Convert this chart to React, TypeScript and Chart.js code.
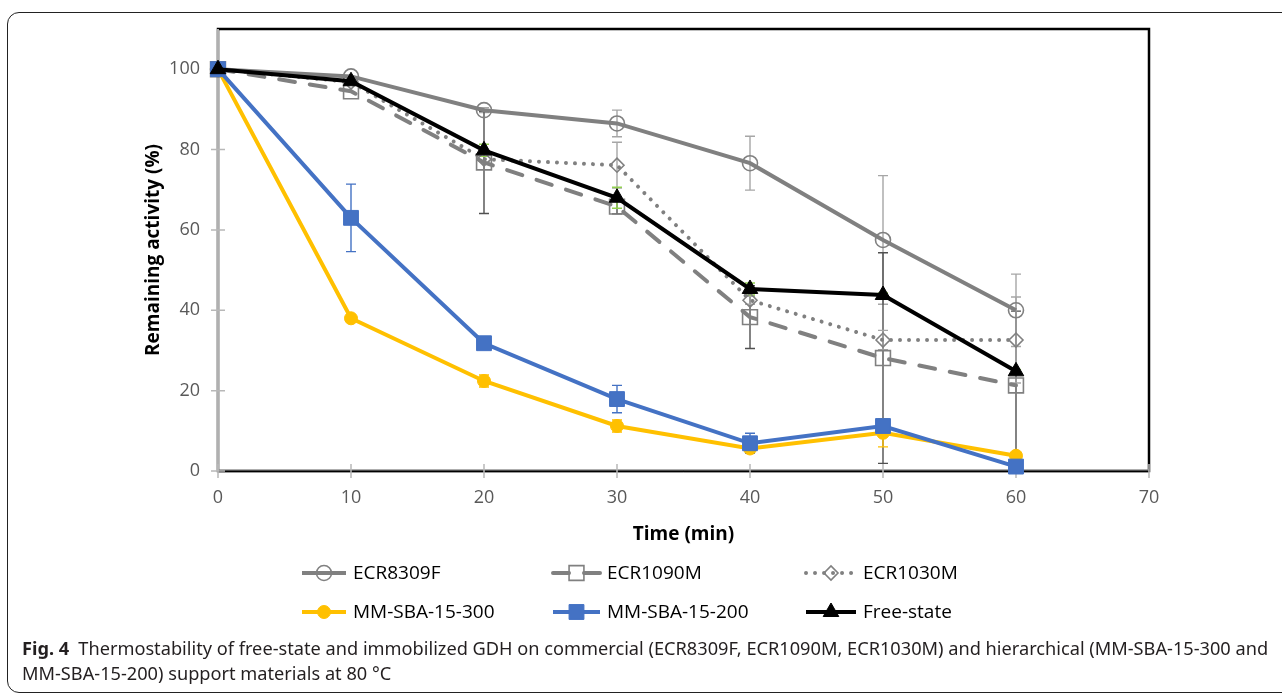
import React, { useEffect, useRef } from 'react';
import { Chart, registerables } from 'chart.js';
import { drawPoint } from 'chart.js/helpers';

Chart.register(...registerables);

const times = [0, 10, 20, 30, 40, 50, 60];
const xTicks = [0, 10, 20, 30, 40, 50, 60, 70];
const yTicks = [0, 20, 40, 60, 80, 100];

const seriesNames = ['ECR8309F', 'ECR1090M', 'ECR1030M', 'MM-SBA-15-300', 'MM-SBA-15-200', 'Free-state'];

const ecr8309f = [100, 98.2, 89.8, 86.5, 76.6, 57.5, 40.0];
const ecr8309fErr = [0, 0, 0.6, 3.3, 6.7, 16.0, 9.0];
const ecr1090m = [100, 94.5, 76.8, 65.8, 38.3, 28.1, 21.3];
const ecr1090mErr = [0, 0, 12.7, 1.8, 7.8, 26.2, 18.5];
const ecr1030m = [100, 96.8, 77.6, 76.1, 42.5, 32.6, 32.6];
const ecr1030mErr = [0, 0, 0, 5.7, 1.0, 2.4, 10.7];
const sba300 = [100, 38.0, 22.4, 11.2, 5.6, 9.5, 3.8];
const sba300Err = [0, 0.8, 1.5, 1.5, 0.8, 3.5, 0.5];
const sba200 = [100, 63.0, 31.8, 17.9, 6.9, 11.2, 1.1];
const sba200Err = [0, 8.4, 0.8, 3.4, 2.5, 1.0, 0.5];
const freeState = [100, 97.0, 79.8, 68.0, 45.3, 43.8, 24.8];
const freeStateErr = [0, 0, 1.5, 2.6, 1.5, 0.5, 0.5];

const captionLine1Bold = 'Fig. 4';
const captionLine1 = 'Thermostability of free-state and immobilized GDH on commercial (ECR8309F, ECR1090M, ECR1030M) and hierarchical (MM-SBA-15-300 and';
const captionLine2 = 'MM-SBA-15-200) support materials at 80 °C';

const toPts = (vals: number[]) => times.map((t, i) => ({ x: t, y: vals[i] }));

const frameAxesPlugin = {
  id: 'frameAxes',
  beforeDatasetsDraw(chart: any) {
    const { ctx, chartArea } = chart;
    const xs = chart.scales.x;
    const ys = chart.scales.y;
    ctx.save();
    ctx.strokeStyle = '#000';
    ctx.lineWidth = 2.5;
    ctx.strokeRect(chartArea.left, chartArea.top, chartArea.right - chartArea.left, chartArea.bottom - chartArea.top);
    ctx.strokeStyle = '#b0b0b0';
    ctx.lineWidth = 2;
    ctx.beginPath();
    ctx.moveTo(chartArea.left, chartArea.top);
    ctx.lineTo(chartArea.left, chartArea.bottom);
    ctx.stroke();
    ctx.strokeStyle = '#9a9a9a';
    ctx.lineWidth = 1;
    ctx.beginPath();
    ctx.moveTo(chartArea.left, chartArea.bottom - 1);
    ctx.lineTo(chartArea.right, chartArea.bottom - 1);
    ctx.moveTo(chartArea.left, chartArea.bottom + 1.5);
    ctx.lineTo(chartArea.right, chartArea.bottom + 1.5);
    ctx.stroke();
    ctx.strokeStyle = '#b8b8b8';
    ctx.lineWidth = 1.5;
    ctx.beginPath();
    yTicks.forEach((v) => {
      const py = ys.getPixelForValue(v);
      ctx.moveTo(chartArea.left - 7, py);
      ctx.lineTo(chartArea.left + 7, py);
    });
    xTicks.forEach((v) => {
      const px = xs.getPixelForValue(v);
      ctx.moveTo(px, chartArea.bottom - 7);
      ctx.lineTo(px, chartArea.bottom + 7);
    });
    ctx.stroke();
    ctx.restore();
  },
};

const errorBarPlugin = {
  id: 'errorBars',
  beforeDatasetsDraw(chart: any) {
    const { ctx } = chart;
    const xs = chart.scales.x;
    const ys = chart.scales.y;
    chart.data.datasets.forEach((ds: any) => {
      ctx.save();
      ctx.strokeStyle = ds.errorColor;
      ctx.lineWidth = 1.4;
      ctx.beginPath();
      ds.data.forEach((p: any, i: number) => {
        const e = ds.errors[i];
        if (!e) return;
        const px = xs.getPixelForValue(p.x);
        const top = ys.getPixelForValue(p.y + e);
        const bot = ys.getPixelForValue(Math.max(p.y - e, 0));
        ctx.moveTo(px, top);
        ctx.lineTo(px, bot);
        ctx.moveTo(px - 5, top);
        ctx.lineTo(px + 5, top);
        ctx.moveTo(px - 5, bot);
        ctx.lineTo(px + 5, bot);
      });
      ctx.stroke();
      ctx.restore();
    });
  },
};

const legendCols = [302, 553, 806];
const legendTextX = [353, 607, 863];
const legendRows = [573, 612];

const customLegendPlugin = {
  id: 'customLegend',
  afterDraw(chart: any) {
    const { ctx } = chart;
    chart.data.datasets.forEach((ds: any, i: number) => {
      const col = i % 3;
      const row = Math.floor(i / 3);
      const x0 = legendCols[col];
      const x1 = legendTextX[col] - 7;
      const y = legendRows[row];
      ctx.save();
      ctx.strokeStyle = ds.borderColor;
      ctx.lineWidth = ds.borderWidth;
      ctx.lineCap = ds.borderCapStyle || 'butt';
      ctx.setLineDash(ds.borderDash || []);
      ctx.beginPath();
      ctx.moveTo(x0, y);
      ctx.lineTo(x1, y);
      ctx.stroke();
      ctx.setLineDash([]);
      ctx.fillStyle = ds.pointBackgroundColor;
      ctx.strokeStyle = ds.pointBorderColor;
      ctx.lineWidth = ds.pointBorderWidth;
      const cx = (x0 + x1) / 2;
      drawPoint(ctx, { pointStyle: ds.pointStyle, rotation: 0, radius: ds.pointRadius, borderWidth: ds.pointBorderWidth }, cx, y);
      ctx.fillStyle = '#000';
      ctx.font = '19px "Open Sans"';
      ctx.textBaseline = 'middle';
      ctx.textAlign = 'left';
      ctx.fillText(seriesNames[i], legendTextX[col], y + 1);
      ctx.restore();
    });
  },
};

export default function App() {
  const canvasRef = useRef<HTMLCanvasElement | null>(null);

  useEffect(() => {
    const canvas = canvasRef.current;
    if (!canvas) return;
    const gray = '#808080';
    const chart = new Chart(canvas, {
      type: 'line',
      data: {
        datasets: [
          {
            label: seriesNames[0], data: toPts(ecr8309f), errors: ecr8309fErr, errorColor: '#a6a6a6',
            borderColor: gray, borderWidth: 4, pointStyle: 'circle', pointRadius: 7.5, pointBorderWidth: 1.6,
            pointBorderColor: gray, pointBackgroundColor: 'rgba(255,255,255,0)', order: 6,
          },
          {
            label: seriesNames[1], data: toPts(ecr1090m), errors: ecr1090mErr, errorColor: '#505050',
            borderColor: gray, borderWidth: 4, borderDash: [16, 15], borderCapStyle: 'round', pointStyle: 'rect', pointRadius: 10.5, pointBorderWidth: 1.6,
            pointBorderColor: gray, pointBackgroundColor: 'rgba(255,255,255,0)', order: 5,
          },
          {
            label: seriesNames[2], data: toPts(ecr1030m), errors: ecr1030mErr, errorColor: '#a6a6a6',
            borderColor: gray, borderWidth: 4, borderDash: [0.01, 9], borderCapStyle: 'round', pointStyle: 'rectRot', pointRadius: 7, pointBorderWidth: 1.6,
            pointBorderColor: gray, pointBackgroundColor: 'rgba(255,255,255,0)', order: 4,
          },
          {
            label: seriesNames[3], data: toPts(sba300), errors: sba300Err, errorColor: '#ffc000',
            borderColor: '#ffc000', borderWidth: 4, pointStyle: 'circle', pointRadius: 6.5, pointBorderWidth: 1,
            pointBorderColor: '#ffc000', pointBackgroundColor: '#ffc000', order: 3,
          },
          {
            label: seriesNames[4], data: toPts(sba200), errors: sba200Err, errorColor: '#4472c4',
            borderColor: '#4472c4', borderWidth: 4, pointStyle: 'rect', pointRadius: 10.5, pointBorderWidth: 1,
            pointBorderColor: '#4472c4', pointBackgroundColor: '#4472c4', order: 2,
          },
          {
            label: seriesNames[5], data: toPts(freeState), errors: freeStateErr, errorColor: '#92d050',
            borderColor: '#000', borderWidth: 4, pointStyle: 'triangle', pointRadius: 9, pointBorderWidth: 1,
            pointBorderColor: '#000', pointBackgroundColor: '#000', order: 1,
          },
        ] as any,
      },
      options: {
        animation: false,
        responsive: false,
        events: [],
        datasets: { line: { clip: false as any, tension: 0 } },
        layout: { padding: { top: 29, right: 133, left: 138, bottom: 143 } },
        plugins: { legend: { display: false }, tooltip: { enabled: false } },
        scales: {
          x: {
            type: 'linear', min: 0, max: 70,
            afterBuildTicks: (axis: any) => { axis.ticks = xTicks.map((v) => ({ value: v })); },
            afterFit: (scale: any) => { scale.height = 79; },
            grid: { display: false, drawTicks: false },
            border: { display: false },
            ticks: { color: '#595959', font: { family: '"Open Sans"', size: 18 }, padding: 16 },
            title: { display: true, text: 'Time (min)', color: '#000', font: { family: '"Open Sans"', size: 19, weight: 'bold' } },
          },
          y: {
            type: 'linear', min: 0, max: 110,
            afterBuildTicks: (axis: any) => { axis.ticks = yTicks.map((v) => ({ value: v })); },
            afterFit: (scale: any) => { scale.width = 80; },
            grid: { display: false, drawTicks: false },
            border: { display: false },
            ticks: { color: '#595959', font: { family: '"Open Sans"', size: 18 }, padding: 18 },
            title: { display: true, text: 'Remaining activity (%)', color: '#000', font: { family: '"Open Sans"', size: 19, weight: 'bold' } },
          },
        },
      } as any,
      plugins: [frameAxesPlugin, errorBarPlugin, customLegendPlugin],
    });
    return () => chart.destroy();
  }, []);

  return (
    <div style={{ position: 'absolute', left: 0, top: 0, width: 1282, height: 693, overflow: 'hidden', background: '#fff' }}>
      <div style={{ position: 'absolute', left: 7, top: 12, width: 1320, height: 679, border: '1.5px solid #222', borderRadius: 12 }} />
      <canvas ref={canvasRef} width={1282} height={693} style={{ position: 'absolute', left: 0, top: 0 }} />
      <div style={{ position: 'absolute', left: 22, top: 636, fontFamily: '"Noto Sans", sans-serif', fontSize: 18.2, lineHeight: '25px', color: '#231f20', whiteSpace: 'nowrap' }}>
        <div><b>{captionLine1Bold}</b>{'\u2002'}{captionLine1}</div>
        <div>{captionLine2}</div>
      </div>
    </div>
  );
}
